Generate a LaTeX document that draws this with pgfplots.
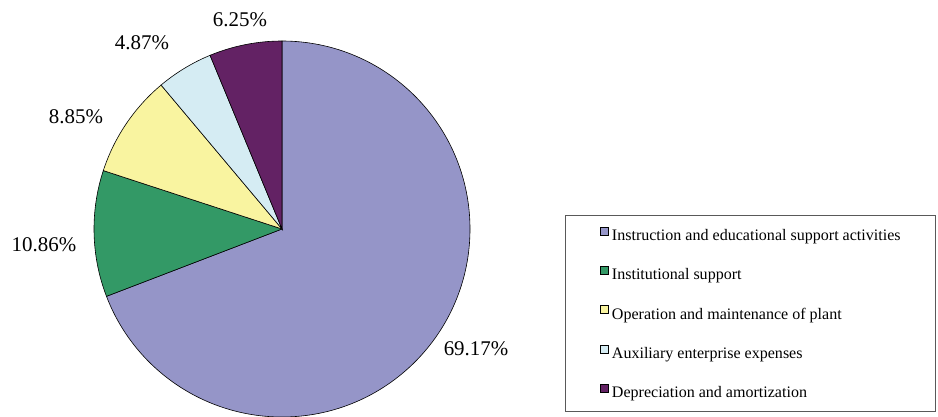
\documentclass[border=0pt]{standalone}
\usepackage{pgfplots}
\usepackage{pgfplotstable}
\pgfplotsset{compat=1.18}
\usepackage{fontspec}
\setmainfont{Liberation Serif}
\definecolor{slice0}{RGB}{149,149,200}
\definecolor{slice1}{RGB}{51,153,102}
\definecolor{slice2}{RGB}{249,244,160}
\definecolor{slice3}{RGB}{213,236,243}
\definecolor{slice4}{RGB}{99,34,100}
\pgfplotstableread{
idx value
0 69.17
1 10.86
2 8.85
3 4.87
4 6.25
}\piedata
\begin{document}
\begin{tikzpicture}
\gdef\cumangle{90}
\foreach \i in {0,...,4}{%
  \pgfplotstablegetelem{\i}{value}\of\piedata
  \pgfmathsetmacro\spn{\pgfplotsretval*3.6}%
  \pgfmathsetmacro\endang{\cumangle-\spn}%
  \expandafter\xdef\csname sa\i\endcsname{\cumangle}%
  \expandafter\xdef\csname ea\i\endcsname{\endang}%
  \xdef\cumangle{\endang}%
}
\begin{axis}[x=1bp, y=1bp, xmin=0, xmax=938, ymin=0, ymax=416,
  hide axis, clip=false,
  legend cell align=left,
  legend image code/.code={\draw[#1,draw=black,line width=0.5pt] (0bp,0bp) rectangle (8bp,8bp);},
  legend style={at={(axis cs:565,4)}, anchor=south west,
    draw=black!65, line width=0.9pt,
    font=\fontsize{16.1}{18}\selectfont,
    inner xsep=35bp, inner ysep=11bp, row sep=22.25bp,
    nodes={inner sep=0pt, text height=14bp, text depth=3bp},
    /tikz/every odd column/.append style={column sep=3bp}},
]
\coordinate (SW) at (axis cs:0,0);
\coordinate (NE) at (axis cs:938,416);
\pgfplotsinvokeforeach{0,...,4}{%
  \fill[fill=slice#1, draw=black, line width=0.6pt] (axis cs:282,187) -- ++(\csname sa#1\endcsname:188bp)
    arc[start angle=\csname sa#1\endcsname, end angle=\csname ea#1\endcsname, radius=188bp] -- cycle;
}
\addlegendimage{fill=slice0}
\addlegendentry{Instruction and educational support activities}
\addlegendimage{fill=slice1}
\addlegendentry{Institutional support}
\addlegendimage{fill=slice2}
\addlegendentry{Operation and maintenance of plant}
\addlegendimage{fill=slice3}
\addlegendentry{Auxiliary enterprise expenses}
\addlegendimage{fill=slice4}
\addlegendentry{Depreciation and amortization}
\begin{scope}[every node/.style={font=\fontsize{21}{24}\selectfont}]
\node at (axis cs:476,67) {69.17\%};
\node at (axis cs:44,171) {10.86\%};
\node at (axis cs:76,299) {8.85\%};
\node at (axis cs:142,373) {4.87\%};
\node at (axis cs:240,396) {6.25\%};
\end{scope}
\end{axis}
\pgfresetboundingbox
\path (SW) rectangle (NE);
\end{tikzpicture}
\end{document}
